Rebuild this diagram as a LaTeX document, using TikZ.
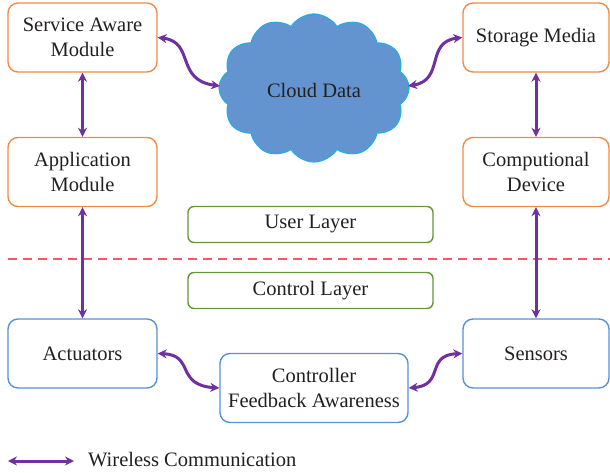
\documentclass[tikz,border=0pt]{standalone}
\usepackage{fontspec}
\setmainfont{Liberation Serif}
\usetikzlibrary{shapes.symbols,arrows.meta}
\definecolor{boxorange}{RGB}{240,140,70}
\definecolor{boxgreen}{RGB}{100,150,60}
\definecolor{boxblue}{RGB}{90,145,210}
\definecolor{wpurple}{RGB}{112,48,160}
\definecolor{dashred}{RGB}{240,90,100}
\definecolor{cloudfill}{RGB}{100,148,208}
\definecolor{cloudline}{RGB}{40,170,230}
\definecolor{txt}{RGB}{35,31,32}
\begin{document}
\begin{tikzpicture}[x=1pt,y=-1pt,
  every node/.style={text=txt,font=\fontsize{20.5}{25}\selectfont,align=center},
  obox/.style={draw=boxorange,line width=1.4pt,rounded corners=10pt,minimum width=149pt,minimum height=69pt,inner sep=0pt},
  bbox/.style={draw=boxblue,line width=1.4pt,rounded corners=10pt,minimum width=149pt,minimum height=69pt,inner sep=0pt},
  gbox/.style={draw=boxgreen,line width=1.4pt,rounded corners=6pt,minimum width=245pt,minimum height=36pt,inner sep=0pt},
  wire/.style={draw=wpurple,line width=3pt,{Stealth[length=9pt,width=9pt]}-{Stealth[length=9pt,width=9pt]}}
]
\useasboundingbox (0,0) rectangle (610,473);
% nodes
\node[obox] (sam) at (82.5,37.5) {Service Aware\\Module};
\node[obox] (app) at (82.5,172) {Application\\Module};
\node[obox,minimum width=146pt] (sto) at (536,37.5) {Storage Media};
\node[obox,minimum width=146pt] (comp) at (536,172) {Computional\\Device};
\node[gbox] (user) at (310.5,224.5) {User Layer};
\node[gbox] (ctrl) at (310.5,290.5) {Control Layer};
\node[bbox] (act) at (82.5,353.5) {Actuators};
\node[bbox,minimum width=146pt] (sen) at (536,353.5) {Sensors};
\node[bbox,minimum width=188pt] (cfa) at (314,388) {Controller\\Feedback Awareness};
\node[cloud,cloud puffs=12,cloud puff arc=115,aspect=1.3,draw=cloudline,fill=cloudfill,line width=1.2pt,minimum width=190pt,minimum height=148pt,inner sep=0pt] (cloud) at (314,88) {};
\node at (314,90) {Cloud Data};
% dashed separator
\coordinate (dl) at (8,259);
\coordinate (dr) at (610,259);
\draw[dashred,line width=1.5pt,dash pattern=on 9pt off 6pt] (dl) -- (dr);
% vertical connectors
\draw[wire] (sam.south) -- (app.north);
\draw[wire] (app.south) -- (act.north);
\draw[wire] (sto.south) -- (comp.north);
\draw[wire] (comp.south) -- (sen.north);
% curved connectors
\coordinate (c1) at (220,86);
\coordinate (c2) at (408,86);
\draw[wire] (sam.east) .. controls (195,42) and (175,80) .. (c1);
\draw[wire] (sto.west) .. controls (425,42) and (445,80) .. (c2);
\draw[wire] (act.east) .. controls (195,355) and (175,385) .. (cfa.west);
\draw[wire] (sen.west) .. controls (425,355) and (445,385) .. (cfa.east);
% legend
\coordinate (l1) at (8,461);
\coordinate (l2) at (74,461);
\draw[wire] (l1) -- (l2);
\node[anchor=west,inner sep=0pt] (leg) at (88,460) {Wireless Communication};
\end{tikzpicture}
\end{document}
